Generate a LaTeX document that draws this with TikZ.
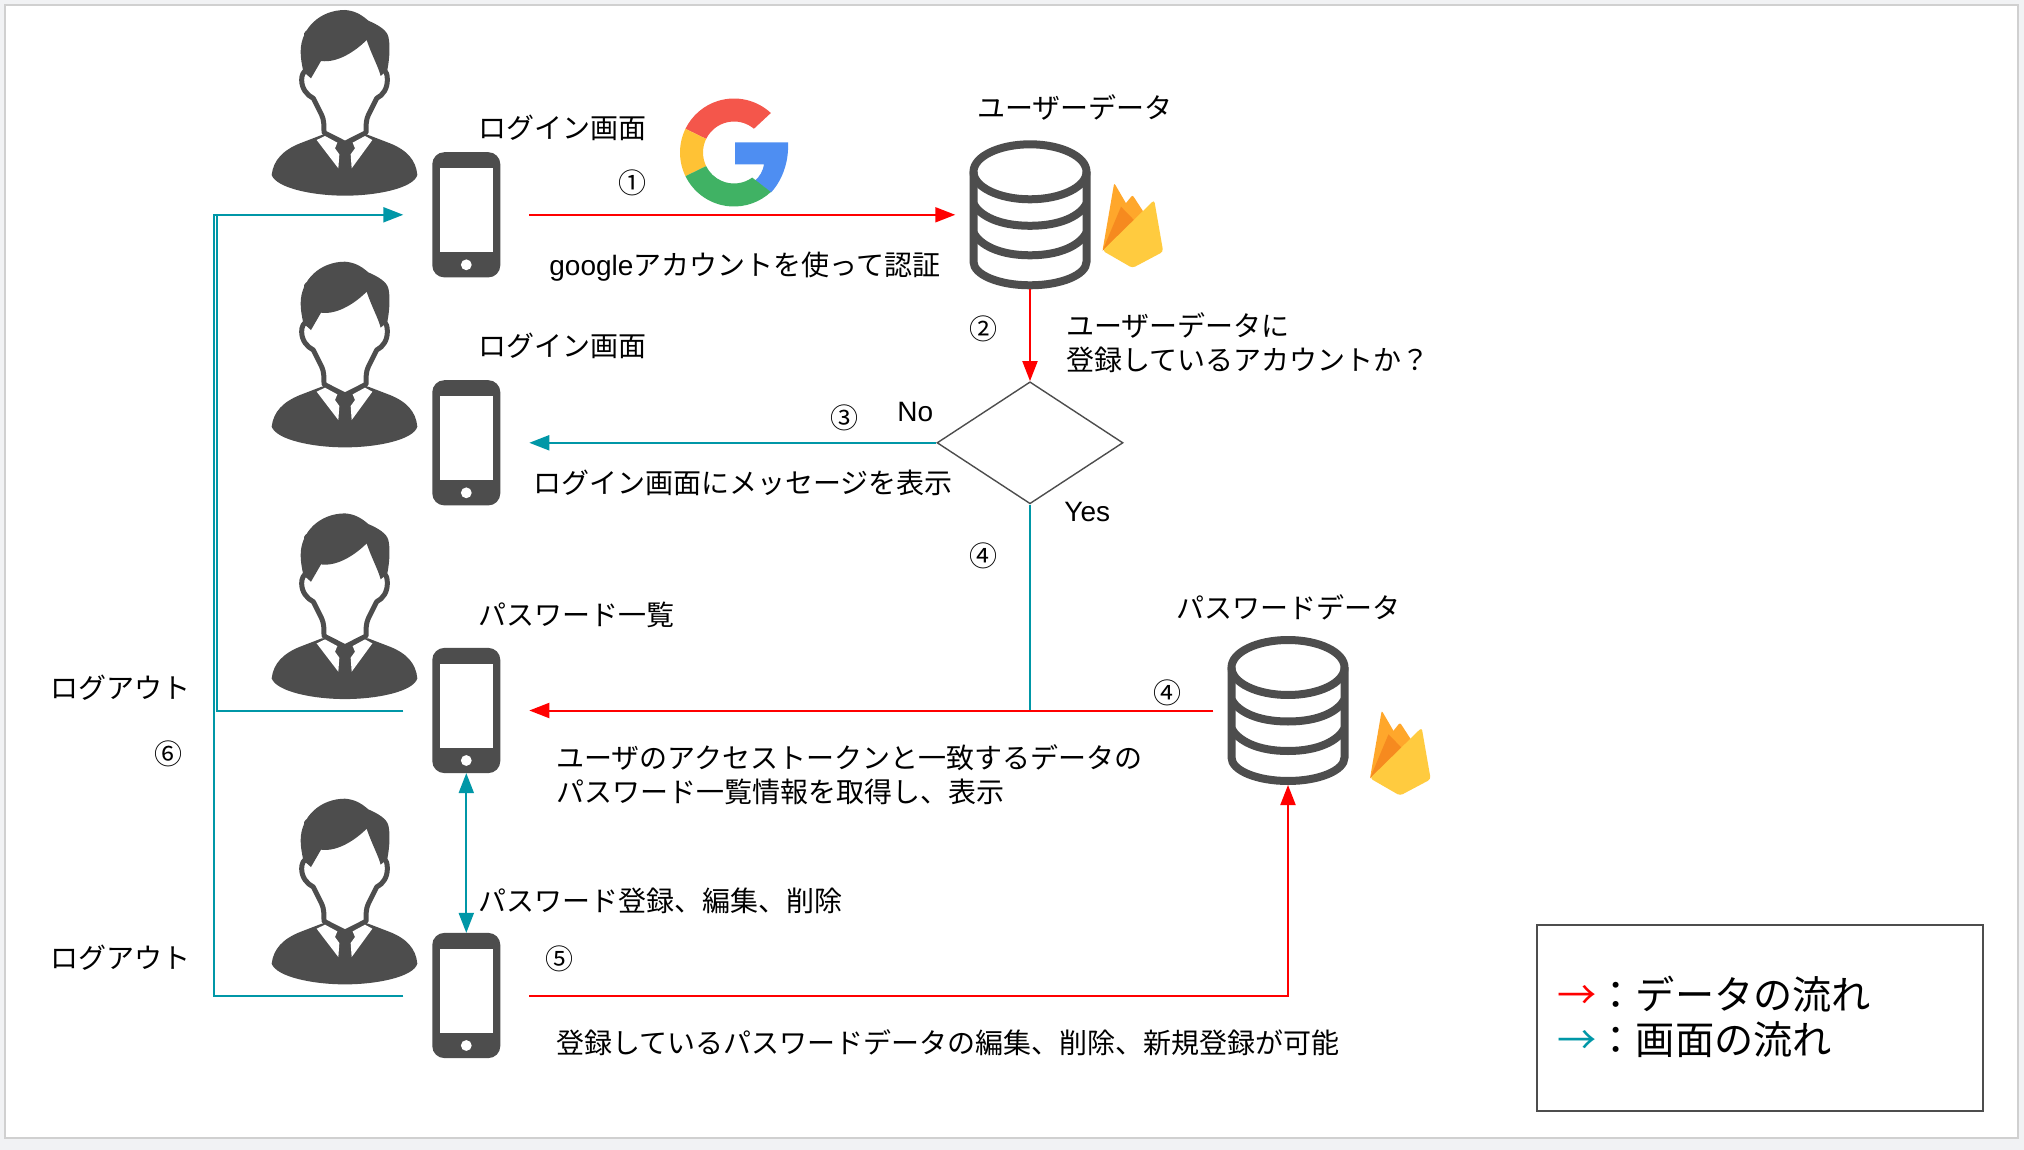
\documentclass[tikz,border=0pt]{standalone}
\usepackage{fontspec}
\setmainfont{Noto Sans CJK JP}
\newfontfamily\latinfont{Liberation Sans}
\usetikzlibrary{arrows.meta}
\usetikzlibrary{shapes.geometric}
\definecolor{icondark}{HTML}{4D4D4D}
\definecolor{flowteal}{HTML}{0097A7}
\definecolor{flowred}{HTML}{FF0000}
\definecolor{slidebg}{HTML}{F1F2F4}
\definecolor{slideline}{HTML}{D0D0D0}
\definecolor{gred}{HTML}{F4564B}
\definecolor{gyellow}{HTML}{FFC235}
\definecolor{ggreen}{HTML}{40B264}
\definecolor{gblue}{HTML}{4E8EF2}
\definecolor{flameleft}{HTML}{FFA72B}
\definecolor{flamedark}{HTML}{F68A1F}
\definecolor{flamefront}{HTML}{FFCB3F}
\tikzset{
    lbl/.style={anchor=west,inner sep=0pt,align=left,yshift=-.5pt,font=\fontsize{14}{17}\selectfont},
    stepnum/.style={anchor=center,inner sep=0pt,yshift=-.5pt,font=\fontsize{14}{17}\selectfont},
    legendtxt/.style={anchor=west,inner sep=0pt,font=\fontsize{19.6}{23}\selectfont},
    redline/.style={draw=flowred,line width=1pt},
    tealline/.style={draw=flowteal,line width=1pt},
    tip/.style={-{Triangle[length=10pt,width=7.5pt]}},
    phone/.style={rectangle,fill=icondark,rounded corners=6pt,inner sep=0pt,
        minimum width=34pt,minimum height=62.6pt,outer xsep=14.5pt,outer ysep=0pt,
        path picture={
            \begin{scope}[shift={(path picture bounding box.center)},sharp corners]
                \fill[white] (-26.4,-46.4) rectangle (26.4,37);
                \fill[white] (0,50) circle (5.4);
            \end{scope}
        }},
    dbase/.style={rectangle,inner sep=0pt,minimum width=60.75pt,minimum height=74.5pt,
        outer xsep=7pt,outer ysep=0pt,
        path picture={
            \begin{scope}[shift={(path picture bounding box.center)},draw=icondark,line width=4pt]
                \draw (0,-43) ellipse (56.5 and 27.5);
                \draw (-56.5,-43) -- (-56.5,47) .. controls (-56.5,60) and (-31,70.5) .. (0,70.5)
                    .. controls (31,70.5) and (56.5,60) .. (56.5,47) -- (56.5,-43);
                \foreach \ya/\yb in {-11/11,18/40.5}
                    \draw (-56.5,\ya) .. controls (-50,\ya+12) and (-31,\yb) .. (0,\yb)
                        .. controls (31,\yb) and (50,\ya+12) .. (56.5,\ya);
            \end{scope}
        }},
    person/.pic={
        \begin{scope}[x=0.16667pt,y=-0.16667pt,shift={(-285,-300)}]
            % body
            \fill[icondark] (65,525) .. controls (70,480) and (100,450) .. (150,430) -- (215,405)
                -- (355,405) -- (420,430) .. controls (470,450) and (498,480) .. (502,525)
                .. controls (490,565) and (380,587) .. (285,587)
                .. controls (190,587) and (80,565) .. (65,525) -- cycle;
            % face and neck
            \draw[icondark,fill=white,line width=2.5pt,line join=round] (222,398)
                .. controls (222,375) and (222,360) .. (215,345) -- (190,295)
                .. controls (170,285) and (155,265) .. (155,240)
                .. controls (155,225) and (160,215) .. (170,210) -- (170,100) -- (285,60) -- (400,100) -- (400,210)
                .. controls (410,215) and (412,225) .. (412,240)
                .. controls (412,265) and (400,285) .. (380,295) -- (355,345)
                .. controls (348,360) and (348,375) .. (348,398) -- (285,430) -- cycle;
            % hair
            \fill[icondark] (160,215) -- (183,235) -- (213,183)
                .. controls (265,190) and (320,150) .. (350,120)
                .. controls (365,165) and (385,200) .. (392,228) -- (412,210)
                .. controls (420,170) and (420,130) .. (415,110)
                .. controls (410,90) and (385,75) .. (355,62)
                .. controls (330,40) and (310,32) .. (285,30)
                .. controls (210,30) and (152,85) .. (152,155)
                .. controls (152,175) and (155,190) .. (160,215) -- cycle;
            % collar
            \fill[white] (200,420) -- (225,408) -- (262,428) -- (255,445) -- (268,463) -- (265,505) -- cycle;
            \fill[white] (367,420) -- (345,408) -- (308,428) -- (315,445) -- (302,463) -- (305,505) -- cycle;
        \end{scope}
    },
    flame/.pic={
        \fill[flameleft,rounded corners=1pt] (0,0) -- (11.7,-67.7) -- (36,-26) -- cycle;
        \fill[flameleft,rounded corners=1pt] (19,-42) -- (30,-55.7) -- (48,-28) -- (30,-20) -- cycle;
        \fill[flamedark] (0,0) -- (18.5,-44) -- (36,-26) -- cycle;
        \fill[flamefront,rounded corners=1.5pt] (0,0) -- (51.7,-50.7) -- (60.7,1) -- (30,17.3) -- cycle;
    },
    googleg/.pic={
        \begin{scope}[y=.5pt]
            \fill[gblue] (1,10) -- (54,10) .. controls (55,-8) and (49,-27) .. (37,-40)
                -- (21,-28) .. controls (26,-24) and (29,-18) .. (30,-12) -- (1,-12) -- cycle;
            \fill[gred] (47:54) arc (47:154:54) -- (154:31) arc (154:50:31) -- cycle;
            \fill[gyellow] (154:54) arc (154:206:54) -- (206:31) arc (206:154:31) -- cycle;
            \fill[ggreen] (206:54) arc (206:313:54) -- (306:31) arc (306:206:31) -- cycle;
        \end{scope}
    },
}
\begin{document}
\begin{tikzpicture}[x=.5pt,y=-.5pt]
    % slide
    \useasboundingbox (0,0) rectangle (2024,1150);
    \fill[slidebg] (0,0) rectangle (2024,1150);
    \draw[slideline,fill=white,line width=1pt] (5,5) rectangle (2018,1138);

    % users
    \foreach \py in {100,351.7,603.4,888.7}
        \pic at (345,\py) {person};

    % phones
    \node[phone] (phoneone) at (466.3,214.8) {};
    \node[phone] (phonetwo) at (466.3,442.8) {};
    \node[phone] (phonethree) at (466.3,710.5) {};
    \node[phone] (phonefour) at (466.3,995.5) {};

    % databases
    \node[dbase] (userdb) at (1030,214.8) {};
    \node[dbase] (passdb) at (1288,710.5) {};
    \pic at (1102.5,250.7) {flame};
    \pic at (1370,778.3) {flame};
    \pic at (734,152.5) {googleg};

    % decision
    \node[diamond,draw=icondark,line width=.7pt,aspect=1.52,inner sep=0pt,
        minimum width=93pt,minimum height=61pt] (check) at (1030,442.8) {};

    % legend box
    \node[rectangle,draw=icondark,line width=1pt,minimum width=223pt,minimum height=93pt] (legendbox) at (1759.5,1017.5) {};

    % screen flow
    \coordinate (logoutbus) at (214,214.8);
    \coordinate (logoutbusb) at (216.5,214.8);
    \draw[tealline,tip] (phonefour.west) -| (logoutbus) -- (phoneone.west);
    \draw[tealline] (phonethree.west) -| (logoutbusb);
    \draw[tealline,tip] (check.west) -- (phonetwo.east);
    \draw[tealline] (check.south) -- (check.south |- phonethree.east);
    \draw[tealline,{Triangle[length=10pt,width=7.5pt]}-{Triangle[length=10pt,width=7.5pt]}] (phonethree.south) -- (phonefour.north);

    % data flow
    \draw[redline,tip] (phoneone.east) -- (userdb.west);
    \draw[redline,tip] (userdb.south) -- (check.north);
    \draw[redline,tip] (passdb.west) -- (phonethree.east);
    \draw[redline,tip] (phonefour.east) -| (passdb.south);

    % labels
    \node[lbl] (titleone) at (478,126.5) {ログイン画面};
    \node[lbl] (titletwo) at (478,344.6) {ログイン画面};
    \node[lbl] (titlethree) at (478,614) {パスワード一覧};
    \node[lbl] (titlefour) at (478,900) {パスワード登録、編集、削除};
    \node[lbl] (titleuser) at (977,106) {ユーザーデータ};
    \node[lbl] (titlepass) at (1176,606) {パスワードデータ};
    \node[lbl] (txtauth) at (549,266) {{\latinfont google}アカウントを使って認証};
    \node[lbl] (txtcheck) at (1066,342) {ユーザーデータに\\登録しているアカウントか？};
    \node[lbl] (txtmsg) at (533,481.5) {ログイン画面にメッセージを表示};
    \node[lbl] (txtlist) at (556,773.5) {ユーザのアクセストークンと一致するデータの\\パスワード一覧情報を取得し、表示};
    \node[lbl] (txtedit) at (556,1042) {登録しているパスワードデータの編集、削除、新規登録が可能};
    \node[lbl] (txtno) at (897,411) {\latinfont No};
    \node[lbl] (txtyes) at (1064,511) {\latinfont Yes};
    \node[lbl] (logoutone) at (50,687) {ログアウト};
    \node[lbl] (logouttwo) at (50,956.5) {ログアウト};

    % step numbers
    \node[stepnum] (numone) at (632.5,182) {①};
    \node[stepnum] (numtwo) at (983.6,328) {②};
    \node[stepnum] (numthree) at (844,417) {③};
    \node[stepnum] (numfoura) at (983.6,555) {④};
    \node[stepnum] (numfourb) at (1167,692) {④};
    \node[stepnum] (numfive) at (559,958) {⑤};
    \node[stepnum] (numsix) at (168,752.5) {⑥};

    % legend
    \node[legendtxt] (legenddata) at (1557,994) {{\color{flowred}→}：データの流れ};
    \node[legendtxt] (legendscreen) at (1557,1040) {{\color{flowteal}→}：画面の流れ};
\end{tikzpicture}
\end{document}
